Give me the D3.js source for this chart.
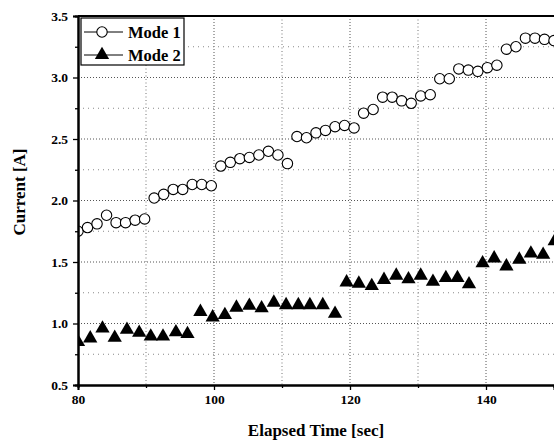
<!DOCTYPE html>
<html>
<head>
<meta charset="utf-8">
<script src="https://cdn.jsdelivr.net/npm/d3@7"></script>
<style>
  body { margin: 0; background: #fff; }
  svg { display: block; font-family: "Liberation Serif", "DejaVu Serif", serif; }
  .tick text { font-family: "Liberation Serif", serif; font-weight: bold; font-size: 13.5px; fill: #000; }
  .axisTitle { font-weight: bold; font-size: 17px; }
  .legText { font-weight: bold; font-size: 16.5px; }
</style>
</head>
<body>
<div id="chart"></div>
<script>
// values
var mode1Time = [80, 81.4, 82.8, 84.2, 85.6, 87, 88.4, 89.8, 91.2, 92.6,
  94, 95.4, 96.8, 98.2, 99.6, 101, 102.4, 103.8, 105.2, 106.6,
  108, 109.4, 110.8, 112.2, 113.6, 115, 116.4, 117.8, 119.2, 120.6,
  122, 123.4, 124.8, 126.2, 127.6, 129, 130.4, 131.8, 133.2, 134.6,
  136, 137.4, 138.8, 140.2, 141.6, 143, 144.4, 145.8, 147.2, 148.6, 150];
var mode1Current = [1.75, 1.78, 1.81, 1.88, 1.82, 1.82, 1.84, 1.85, 2.02, 2.05,
  2.09, 2.09, 2.13, 2.13, 2.12, 2.28, 2.31, 2.34, 2.35, 2.37,
  2.40, 2.37, 2.30, 2.52, 2.51, 2.55, 2.57, 2.60, 2.61, 2.59,
  2.71, 2.74, 2.84, 2.84, 2.81, 2.79, 2.85, 2.86, 2.99, 2.99,
  3.07, 3.06, 3.05, 3.08, 3.10, 3.23, 3.25, 3.32, 3.32, 3.31, 3.30];

var mode2Time = [80, 81.8, 83.6, 85.4, 87.2, 89, 90.7, 92.5, 94.4, 96.1,
  98, 99.8, 101.6, 103.3, 105.2, 107, 108.8, 110.6, 112.4, 114.1,
  116, 117.8, 119.5, 121.3, 123.2, 125, 126.8, 128.6, 130.4, 132.2,
  134.1, 135.8, 137.5, 139.5, 141.2, 143, 144.9, 146.6, 148.4, 150.1];
var mode2Current = [0.85, 0.88, 0.96, 0.885, 0.95, 0.925, 0.895, 0.895, 0.93, 0.915,
  1.095, 1.05, 1.07, 1.13, 1.145, 1.125, 1.17, 1.15, 1.15, 1.15,
  1.15, 1.08, 1.335, 1.325, 1.305, 1.355, 1.39, 1.36, 1.39, 1.34,
  1.37, 1.37, 1.32, 1.49, 1.53, 1.465, 1.52, 1.57, 1.56, 1.67];

var xMajor = [80, 100, 120, 140];
var xMinor = [90, 110, 130, 150];
var yMajor = [0.5, 1.0, 1.5, 2.0, 2.5, 3.0, 3.5];
var yMinor = [0.75, 1.25, 1.75, 2.25, 2.75, 3.25];
var seriesNames = ["Mode 1", "Mode 2"];

var svgWidth = 554, svgHeight = 441;
var margin = { top: 16, right: 0, bottom: 56, left: 78 };
var width = svgWidth - margin.left - margin.right;
var height = svgHeight - margin.top - margin.bottom;

var svg = d3.select("#chart").append("svg")
  .attr("width", svgWidth)
  .attr("height", svgHeight);

var g = svg.append("g")
  .attr("transform", `translate(${margin.left},${margin.top})`);

var x = d3.scaleLinear().domain([80, 150]).range([0, width]);
var y = d3.scaleLinear().domain([0.5, 3.5]).range([height, 0]);

// grid lines
g.selectAll(".vMinor").data(xMinor.slice(0, 3)).enter().append("line")
  .attr("x1", d => x(d)).attr("x2", d => x(d))
  .attr("y1", 0).attr("y2", height)
  .attr("stroke", "#777").attr("stroke-dasharray", "1,2.5");
g.selectAll(".vMajor").data(xMajor.slice(1)).enter().append("line")
  .attr("x1", d => x(d)).attr("x2", d => x(d))
  .attr("y1", 0).attr("y2", height)
  .attr("stroke", "#555").attr("stroke-dasharray", "1,2");
g.selectAll(".hMinor").data(yMinor).enter().append("line")
  .attr("x1", 0).attr("x2", width)
  .attr("y1", d => y(d)).attr("y2", d => y(d))
  .attr("stroke", "#888").attr("stroke-dasharray", "1,4");
g.selectAll(".hMajor").data(yMajor.slice(1, -1)).enter().append("line")
  .attr("x1", 0).attr("x2", width)
  .attr("y1", d => y(d)).attr("y2", d => y(d))
  .attr("stroke", "#555").attr("stroke-dasharray", "1,2");

// clip markers to the plot area
svg.append("defs").append("clipPath").attr("id", "plotClip")
  .append("rect").attr("width", width).attr("height", height);
var plot = g.append("g").attr("clip-path", "url(#plotClip)");

var tri = d3.symbol().type(d3.symbolTriangle).size(88);

plot.selectAll(".m2").data(mode2Time).enter().append("path")
  .attr("d", tri)
  .attr("transform", (d, i) => `translate(${x(d)},${y(mode2Current[i])})`)
  .attr("fill", "#000");

plot.selectAll(".m1").data(mode1Time).enter().append("circle")
  .attr("cx", d => x(d))
  .attr("cy", (d, i) => y(mode1Current[i]))
  .attr("r", 5.2)
  .attr("fill", "#fff")
  .attr("stroke", "#000")
  .attr("stroke-width", 1.1);

// axes
var xAxis = g.append("g").attr("transform", `translate(0,${height})`)
  .call(d3.axisBottom(x).tickValues(xMajor).tickSize(5).tickPadding(4).tickFormat(d3.format("d")));
var xAxisMinor = g.append("g").attr("transform", `translate(0,${height})`)
  .call(d3.axisBottom(x).tickValues(xMinor).tickSize(3).tickFormat(""));
var yAxis = g.append("g")
  .call(d3.axisLeft(y).tickValues(yMajor).tickSize(5).tickPadding(5).tickFormat(d3.format(".1f")));
var yAxisMinor = g.append("g")
  .call(d3.axisLeft(y).tickValues(yMinor).tickSize(3).tickFormat(""));

[xAxis, xAxisMinor, yAxis, yAxisMinor].forEach(function(a) {
  a.attr("font-family", null).attr("font-size", null);
  a.select(".domain").attr("stroke", "#000").attr("stroke-width", 2);
  a.selectAll(".tick line").attr("stroke", "#000").attr("stroke-width", 1.3);
});

// top frame line
g.append("line")
  .attr("x1", 0).attr("x2", width).attr("y1", 0).attr("y2", 0)
  .attr("stroke", "#000").attr("stroke-width", 2.2);

// axis titles
svg.append("text")
  .attr("class", "axisTitle")
  .attr("x", margin.left + width / 2)
  .attr("y", 436)
  .attr("text-anchor", "middle")
  .text("Elapsed Time [sec]");

svg.append("text")
  .attr("class", "axisTitle")
  .attr("transform", "translate(25,192) rotate(-90)")
  .attr("text-anchor", "middle")
  .text("Current [A]");

// legend
var leg = g.append("g").attr("transform", "translate(3,2)");
leg.append("rect")
  .attr("width", 103).attr("height", 47)
  .attr("fill", "#fff").attr("stroke", "#000").attr("stroke-width", 1.2);

var legRows = leg.selectAll(".legRow").data(seriesNames).enter().append("g")
  .attr("transform", (d, i) => `translate(0,${14 + i * 23})`);
legRows.append("line")
  .attr("x1", 3).attr("x2", 42).attr("y1", 0).attr("y2", 0)
  .attr("stroke", "#000").attr("stroke-width", 1);
legRows.filter((d, i) => i === 0).append("circle")
  .attr("cx", 21).attr("cy", 0).attr("r", 5.2)
  .attr("fill", "#fff").attr("stroke", "#000").attr("stroke-width", 1.1);
legRows.filter((d, i) => i === 1).append("path")
  .attr("d", tri).attr("transform", "translate(21,0)").attr("fill", "#000");
legRows.append("text")
  .attr("class", "legText")
  .attr("x", 47).attr("y", 5.5)
  .text(d => d);
</script>
</body>
</html>
